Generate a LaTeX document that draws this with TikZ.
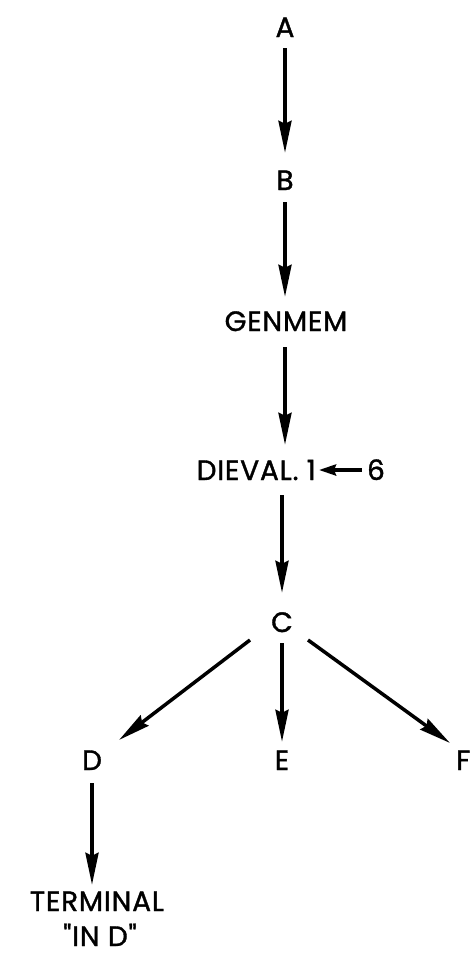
\documentclass[tikz,border=0pt]{standalone}
\usepackage{fontspec}
\newfontfamily\pop{Poppins}[FakeBold=1.3,LetterSpace=3]
\usetikzlibrary{arrows.meta,calc}
\begin{document}
\begin{tikzpicture}[x=1pt,y=1pt,
  lbl/.style={inner sep=0pt, text height=20pt, text depth=0pt, font=\pop\fontsize{28}{32}\selectfont},
  arr/.style={line width=3.5pt, -{Stealth[length=32pt,width=13pt,inset=3pt]}},
  sarr/.style={line width=3.5pt, -{Stealth[length=17pt,width=11pt,inset=2pt]}}]
\useasboundingbox (0,0) rectangle (475,-956);
% nodes
\node[lbl] (A) at (285,-27) {A};
\node[lbl] (B) at (285,-180) {B};
\node[lbl] (G) at (286,-321) {GENMEM};
\node[lbl, anchor=east] (DV) at (316,-470) {DIEVAL. 1};
\node[lbl] (six) at (376,-470) {6};
\node[lbl] (C) at (282,-622) {C};
\node[lbl] (D) at (92,-760) {D};
\node[lbl] (E) at (282,-760) {E};
\node[lbl, anchor=west] (F) at (456,-760) {F};
\node[lbl] (T) at (97,-901) {TERMINAL};
\node[lbl] (ID) at (100,-936) {"IN D"};
% connectors
\draw[arr, shorten <=11pt, shorten >=17pt] (A.south) -- (B.north);
\draw[arr, shorten <=12pt, shorten >=14pt] (B.south) -- (G.north -| B);
\draw[arr, shorten <=16pt, shorten >=15pt] (G.south -| B) -- (B |- DV.north);
\draw[arr, shorten <=15pt, shorten >=19pt] (DV.south -| C) -- (C.north);
\draw[sarr, shorten <=5pt, shorten >=3pt] (six.west) -- (DV.east);
\draw[arr] ([shift={(-32,-18)}]C.center) -- ([shift={(27,20)}]D.center);
\draw[arr, shorten <=11pt, shorten >=8pt] (C.south) -- (E.north);
\draw[arr] ([shift={(26,-18)}]C.center) -- ([shift={(-6,17)}]F.west);
\draw[arr, shorten <=13pt, shorten >=6pt] (D.south) -- (T.north -| D);
\end{tikzpicture}
\end{document}
